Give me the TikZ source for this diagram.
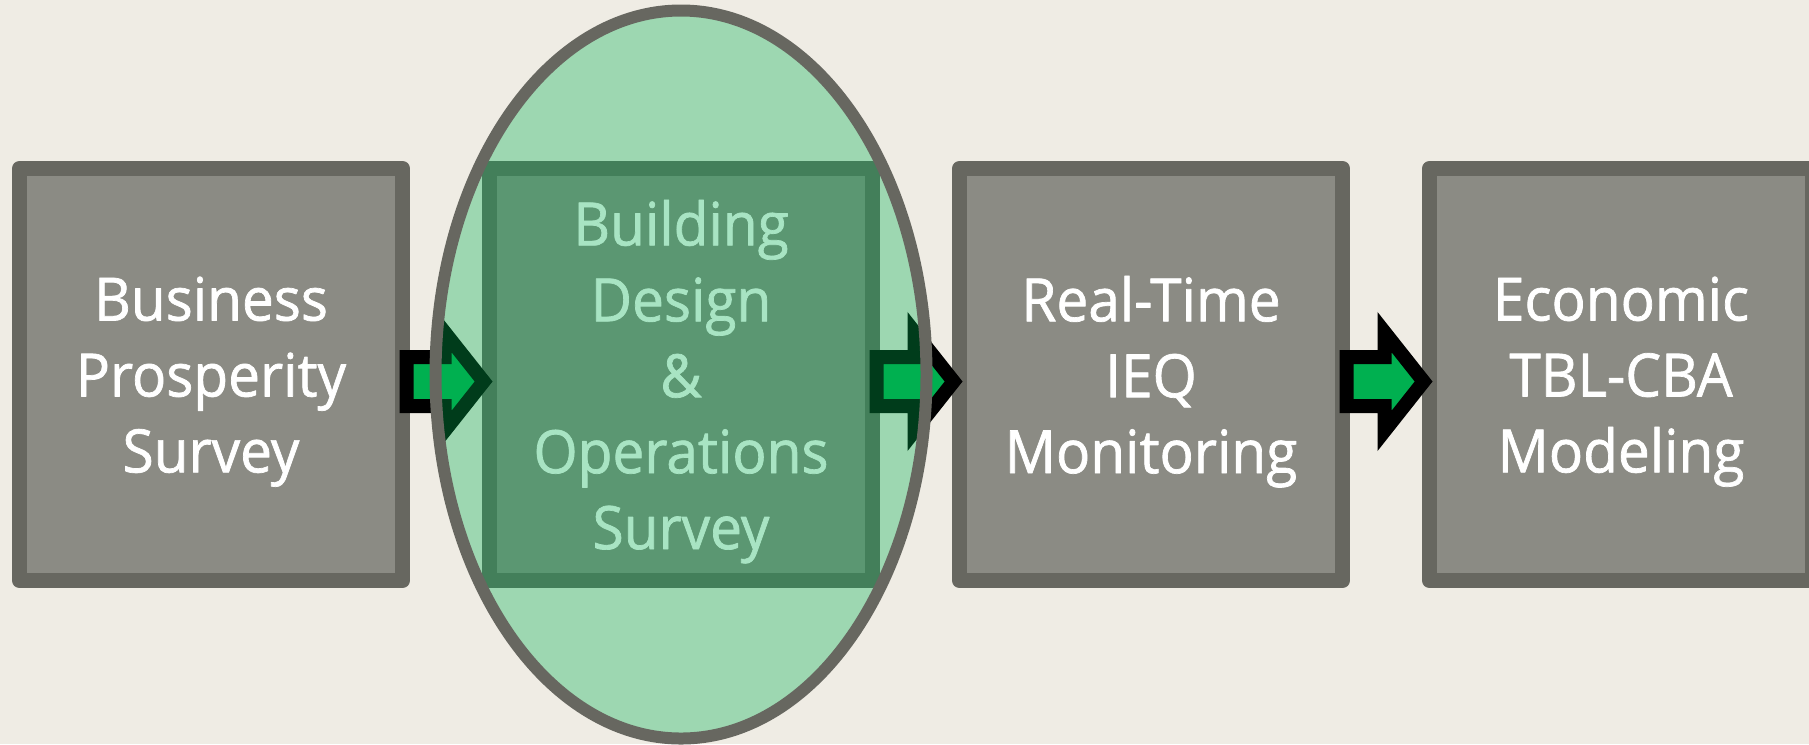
\documentclass[tikz,border=0pt]{standalone}
\usepackage{fontspec}
\newfontfamily\stagefont[FakeStretch=0.95,FakeBold=1.2]{Open Sans}
\usetikzlibrary{positioning,calc}
\definecolor{paper}{RGB}{239,236,228}
\definecolor{boxgray}{RGB}{139,139,132}
\definecolor{edgegray}{RGB}{103,103,96}
\definecolor{arrowgreen}{RGB}{0,176,80}
\tikzset{
  stage/.style     = {shape=rectangle, draw=edgegray, fill=boxgray,
                      line width=0.3cm, line join=round,
                      minimum width=7.66cm, minimum height=8.24cm,
                      inner sep=0pt, align=center, text=white,
                      font=\stagefont\fontsize{34}{43.2}\selectfont,
                      text depth=-1.8pt},
  arrowbody/.style = {fill=arrowgreen, draw=black, line width=0.28cm},
  focus/.style     = {fill=arrowgreen, fill opacity=0.34,
                      draw=edgegray, line width=0.24cm},
  blockarrow/.pic  = {
    \filldraw[arrowbody] (-0.79,0.49) -- (-0.03,0.49) -- (-0.03,0.988)
      -- (0.752,0) -- (-0.03,-0.988) -- (-0.03,-0.49) -- (-0.79,-0.49) -- cycle;
  }
}
\begin{document}
\begin{tikzpicture}
  \path[use as bounding box, fill=paper] (0,0) rectangle (36.18,-14.88);
  \clip (0,0) rectangle (36.18,-14.88);

  \node[stage] (business) at (4.22,-7.49) {Business\\Prosperity\\Survey};
  \node[stage, right=1.44cm of business] (design) {Building\\Design\\\&\\Operations\\Survey};
  \node[stage, right=1.44cm of design] (ieq) {Real-Time\\IEQ\\Monitoring};
  \node[stage, right=1.44cm of ieq] (econ) {Economic\\TBL-CBA\\Modeling};

  % block arrows between the stages
  \foreach \a/\b in {business/design, design/ieq, ieq/econ}
    \pic at ($(\a.east)!0.5!(\b.west)+(0,-0.14)$) {blockarrow};

  % highlight on the second stage
  \draw[focus] (design.center) ellipse [x radius=4.91cm, y radius=7.28cm];
\end{tikzpicture}
\end{document}
